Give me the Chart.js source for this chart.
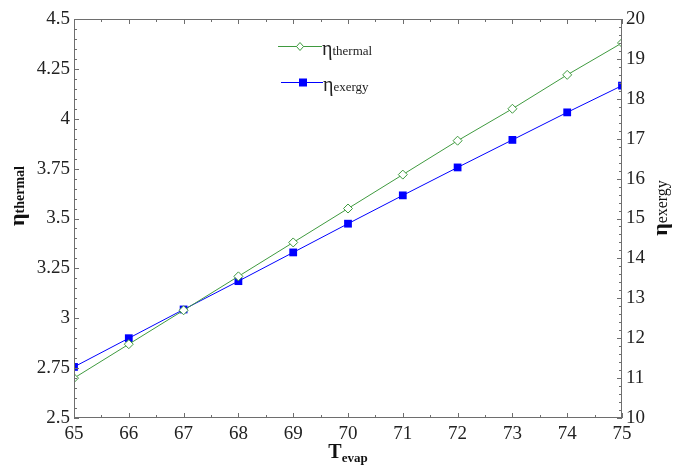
<!DOCTYPE html>
<html>
<head>
<meta charset="utf-8">
<script src="https://cdn.jsdelivr.net/npm/chart.js@4"></script>
<style>
  html, body { margin: 0; padding: 0; background: #fff; }
  #wrap { width: 673px; height: 467px; }
</style>
</head>
<body>
<div id="wrap"><canvas id="chart1"></canvas></div>
<script>
// data
const tevap = [65, 66, 67, 68, 69, 70, 71, 72, 73, 74, 75];
const etaThermal = [2.70, 2.87, 3.04, 3.21, 3.38, 3.55, 3.72, 3.89, 4.05, 4.22, 4.38];
const etaExergy = [11.28, 12.00, 12.72, 13.43, 14.15, 14.87, 15.58, 16.28, 16.97, 17.66, 18.33];

const SERIF = "'Liberation Serif', serif";
const GREEN = '#3f9a3f';
const BLUE = '#0000ff';

Chart.defaults.font.family = SERIF;

// draw "main" + smaller subscript, centred on (0,0) of current transform
function subText(ctx, main, sub, mainFont, subFont, drop, align) {
    ctx.font = mainFont;
    const w1 = ctx.measureText(main).width;
    ctx.font = subFont;
    const w2 = ctx.measureText(sub).width;
    const x0 = align === 'left' ? 0 : -(w1 + w2) / 2;
    ctx.textAlign = 'left';
    ctx.textBaseline = 'alphabetic';
    ctx.font = mainFont;
    ctx.fillText(main, x0, 0);
    ctx.font = subFont;
    ctx.fillText(sub, x0 + w1, drop);
}

// frame, inside ticks, axis titles and legend
const decor = {
    id: 'decor',
    afterDraw(chart) {
        const ctx = chart.ctx;
        const a = chart.chartArea;
        const sx = chart.scales.x, sy = chart.scales.y, sy1 = chart.scales.y1;
        ctx.save();
        ctx.strokeStyle = '#6e6e6e';
        ctx.lineWidth = 1;
        ctx.strokeRect(a.left + 0.5, a.top + 0.5, a.right - a.left - 1, a.bottom - a.top - 1);

        ctx.beginPath();
        // x ticks, bottom and top
        for (let v = 65; v <= 75.001; v += 0.5) {
            const px = Math.round(sx.getPixelForValue(v)) + 0.5;
            const len = Math.abs(v - Math.round(v)) < 0.01 ? 5 : 3;
            ctx.moveTo(px, a.bottom); ctx.lineTo(px, a.bottom - len);
            ctx.moveTo(px, a.top); ctx.lineTo(px, a.top + len);
        }
        // left ticks
        for (let i = 0; i <= 40; i++) {
            const v = 2.5 + i * 0.05;
            const py = Math.round(sy.getPixelForValue(v)) + 0.5;
            const len = i % 5 === 0 ? 5 : 3;
            ctx.moveTo(a.left, py); ctx.lineTo(a.left + len, py);
        }
        // right ticks
        for (let i = 0; i <= 50; i++) {
            const v = 10 + i * 0.2;
            const py = Math.round(sy1.getPixelForValue(v)) + 0.5;
            const len = i % 5 === 0 ? 5 : 3;
            ctx.moveTo(a.right, py); ctx.lineTo(a.right - len, py);
        }
        ctx.stroke();

        ctx.fillStyle = '#111';
        // x title
        ctx.save();
        ctx.translate((a.left + a.right) / 2, 458);
        subText(ctx, 'T', 'evap', 'bold 20px ' + SERIF, 'bold 13px ' + SERIF, 4);
        ctx.restore();
        // left title
        ctx.save();
        ctx.translate(24, 196);
        ctx.rotate(-Math.PI / 2);
        subText(ctx, 'η', 'thermal', 'bold 22px ' + SERIF, 'bold 14px ' + SERIF, 0);
        ctx.restore();
        // right title
        ctx.save();
        ctx.translate(667, 208);
        ctx.rotate(-Math.PI / 2);
        subText(ctx, 'η', 'exergy', 'bold 22px ' + SERIF, '16px ' + SERIF, 0);
        ctx.restore();

        // legend
        ctx.lineWidth = 1;
        ctx.strokeStyle = GREEN;
        ctx.beginPath(); ctx.moveTo(278, 46.5); ctx.lineTo(322, 46.5); ctx.stroke();
        ctx.fillStyle = '#fff';
        ctx.beginPath();
        ctx.moveTo(300, 42.5); ctx.lineTo(303.5, 46.5); ctx.lineTo(300, 50.5); ctx.lineTo(296.5, 46.5);
        ctx.closePath(); ctx.fill(); ctx.stroke();
        ctx.strokeStyle = BLUE;
        ctx.beginPath(); ctx.moveTo(281, 82.5); ctx.lineTo(323, 82.5); ctx.stroke();
        ctx.fillStyle = BLUE;
        ctx.fillRect(299, 78.5, 8, 8);
        ctx.fillStyle = '#222';
        ctx.save();
        ctx.translate(322, 55);
        subText(ctx, 'η', 'thermal', '20px ' + SERIF, '13px ' + SERIF, 0, 'left');
        ctx.restore();
        ctx.save();
        ctx.translate(323, 91);
        subText(ctx, 'η', 'exergy', '20px ' + SERIF, '13px ' + SERIF, 0, 'left');
        ctx.restore();
        ctx.restore();
    }
};

const tickFont = { family: SERIF, size: 19 };
const fmt = v => String(+Number(v).toFixed(2));

new Chart(document.getElementById('chart1'), {
    type: 'line',
    data: {
        labels: tevap,
        datasets: [
            {
                label: 'ηthermal',
                data: tevap.map((t, i) => ({ x: t, y: etaThermal[i] })),
                yAxisID: 'y',
                borderColor: GREEN,
                borderWidth: 1,
                pointStyle: 'rectRot',
                pointRadius: 4.5,
                pointBorderWidth: 1,
                pointBackgroundColor: '#fff',
                pointBorderColor: GREEN,
                tension: 0
            },
            {
                label: 'ηexergy',
                data: tevap.map((t, i) => ({ x: t, y: etaExergy[i] })),
                yAxisID: 'y1',
                borderColor: BLUE,
                borderWidth: 1,
                pointStyle: 'rect',
                pointRadius: 5.5,
                pointBorderWidth: 0,
                pointBackgroundColor: BLUE,
                pointBorderColor: BLUE,
                tension: 0
            }
        ]
    },
    options: {
        responsive: true,
        maintainAspectRatio: false,
        animation: false,
        layout: { padding: { top: 19, left: 0, right: 0, bottom: 0 } },
        plugins: {
            legend: { display: false },
            tooltip: { enabled: false }
        },
        scales: {
            x: {
                type: 'linear',
                min: 65, max: 75,
                grid: { display: false, drawTicks: false },
                border: { display: false },
                ticks: { stepSize: 1, font: tickFont, color: '#222', padding: 5, maxRotation: 0 },
                afterFit: s => { s.height = 49; }
            },
            y: {
                position: 'left',
                min: 2.5, max: 4.5,
                grid: { display: false, drawTicks: false },
                border: { display: false },
                ticks: { stepSize: 0.25, font: tickFont, color: '#222', padding: 4, callback: fmt },
                afterFit: s => { s.width = 74; }
            },
            y1: {
                position: 'right',
                min: 10, max: 20,
                grid: { display: false, drawTicks: false },
                border: { display: false },
                ticks: { stepSize: 1, font: tickFont, color: '#222', padding: 4, callback: fmt },
                afterFit: s => { s.width = 51; }
            }
        }
    },
    plugins: [decor]
});
</script>
</body>
</html>
